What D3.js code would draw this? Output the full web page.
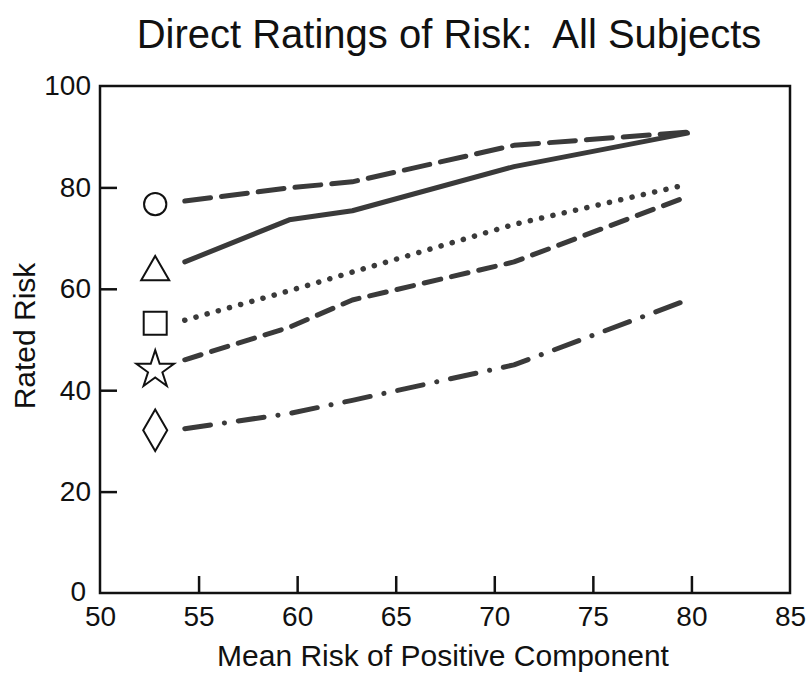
<!DOCTYPE html>

<head>
  <meta charset="utf-8">
  <script src="https://d3js.org/d3.v7.min.js"></script>
  <style>
    body {
      margin: 0;
      background: #fff;
    }

    text {
      font-family: "Liberation Sans", Arial, sans-serif;
      fill: #111;
    }

    text.title {
      font-size: 40px;
      white-space: pre;
    }

    text.axisTitle {
      font-size: 30px;
    }

    .tick text {
      font-size: 28px;
      fill: #111;
    }

    .tick line {
      stroke: #111;
      stroke-width: 2.5px;
    }

    path.domain {
      display: none;
    }
  </style>
</head>

<body>
  <script>
    var width = 809;
    var height = 675;

    // x positions of the five stimulus levels
    const xLevels = [54.3, 59.6, 62.8, 71.0, 79.8];

    // one series per marker
    const circleSeries = [77.3, 79.9, 81.1, 88.3, 90.9];
    const triangleSeries = [65.3, 73.6, 75.4, 84.1, 90.7];
    const squareSeries = [53.8, 59.6, 63.3, 72.7, 80.6];
    const starSeries = [46.0, 52.4, 57.8, 65.3, 78.2];
    const diamondSeries = [32.4, 35.4, 38.0, 45.0, 57.8];

    // legend-like markers at the left end of each line
    const markerX = 52.8;
    const markerValues = [76.7, 63.3, 53.2, 44.0, 32.1];

    const xTicks = [50, 55, 60, 65, 70, 75, 80, 85];
    const yTicks = [0, 20, 40, 60, 80, 100];

    const margin = { top: 86, right: 19, bottom: 82, left: 100 };

    var svg = d3.select("body").append("svg")
      .attr("width", width)
      .attr("height", height);

    let x = d3.scaleLinear()
      .domain([50, 85])
      .range([margin.left, width - margin.right]);

    let y = d3.scaleLinear()
      .domain([0, 100])
      .range([height - margin.bottom, margin.top]);

    svg.append('text')
      .attr('class', 'title')
      .attr('x', 449)
      .attr('y', 48)
      .attr('xml:space', 'preserve')
      .style('text-anchor', 'middle')
      .text('Direct Ratings of Risk:  All Subjects');

    let xAxis = d3.axisBottom(x)
      .tickValues(xTicks)
      .tickSizeInner(-17)
      .tickSizeOuter(0)
      .tickPadding(13)
      .tickFormat(d3.format('d'));

    svg.append('g')
      .attr('class', 'axis xAxis')
      .attr('transform', `translate(0, ${y(0)})`)
      .call(xAxis)
      .selectAll('.tick line')
      .style('display', d => (d == 50 || d == 85) ? 'none' : null);

    let yAxis = d3.axisLeft(y)
      .tickValues(yTicks)
      .tickSizeInner(-17)
      .tickSizeOuter(0)
      .tickPadding(9)
      .tickFormat(d3.format('d'));

    let yG = svg.append('g')
      .attr('class', 'axis yAxis')
      .attr('transform', `translate(${x(50)}, 0)`)
      .call(yAxis);

    yG.selectAll('.tick line')
      .style('display', d => (d == 0 || d == 100) ? 'none' : null);

    // the 0 sits a little further left and higher, clear of the 50
    yG.selectAll('.tick text')
      .filter(d => d == 0)
      .attr('dx', -5)
      .attr('dy', '0.25em');

    // frame
    svg.append('rect')
      .attr('x', x(50))
      .attr('y', y(100))
      .attr('width', x(85) - x(50))
      .attr('height', y(0) - y(100))
      .style('fill', 'none')
      .style('stroke', '#111')
      .style('stroke-width', 2.5);

    svg.append('text')
      .attr('class', 'axisTitle')
      .attr('x', 443)
      .attr('y', 666)
      .style('text-anchor', 'middle')
      .text('Mean Risk of Positive Component');

    svg.append('text')
      .attr('class', 'axisTitle')
      .attr('transform', 'translate(35, 336) rotate(-90)')
      .style('text-anchor', 'middle')
      .text('Rated Risk');

    let series = [
      { values: circleSeries, dash: '26,11' },
      { values: triangleSeries, dash: null },
      { values: squareSeries, dash: '0.1,11.5' },
      { values: starSeries, dash: '17,11' },
      { values: diamondSeries, dash: '26,14,0.1,14' }
    ];

    let line = d3.line()
      .x((d, i) => x(xLevels[i]))
      .y(d => y(d));

    svg.selectAll('path.series')
      .data(series)
      .enter()
      .append('path')
      .attr('class', 'series')
      .attr('d', d => line(d.values))
      .style('fill', 'none')
      .style('stroke', '#3a3a3a')
      .style('stroke-width', d => d.dash == '0.1,11.5' ? 5.5 : 5)
      .style('stroke-linecap', 'round')
      .style('stroke-linejoin', 'round')
      .style('stroke-dasharray', d => d.dash);

    let symbols = [
      d3.symbol(d3.symbolCircle, 390),
      d3.symbol(d3.symbolTriangle, 340),
      d3.symbol(d3.symbolSquare, 529),
      d3.symbol(d3.symbolStar, 440),
      d3.symbol(d3.symbolDiamond, 500)
    ];

    svg.selectAll('path.marker')
      .data(markerValues)
      .enter()
      .append('path')
      .attr('class', 'marker')
      .attr('transform', d => `translate(${x(markerX)}, ${y(d)})`)
      .attr('d', (d, i) => symbols[i]())
      .style('fill', 'none')
      .style('stroke', '#111')
      .style('stroke-width', 2)
      .style('stroke-linejoin', 'miter');
  </script>
</body>
